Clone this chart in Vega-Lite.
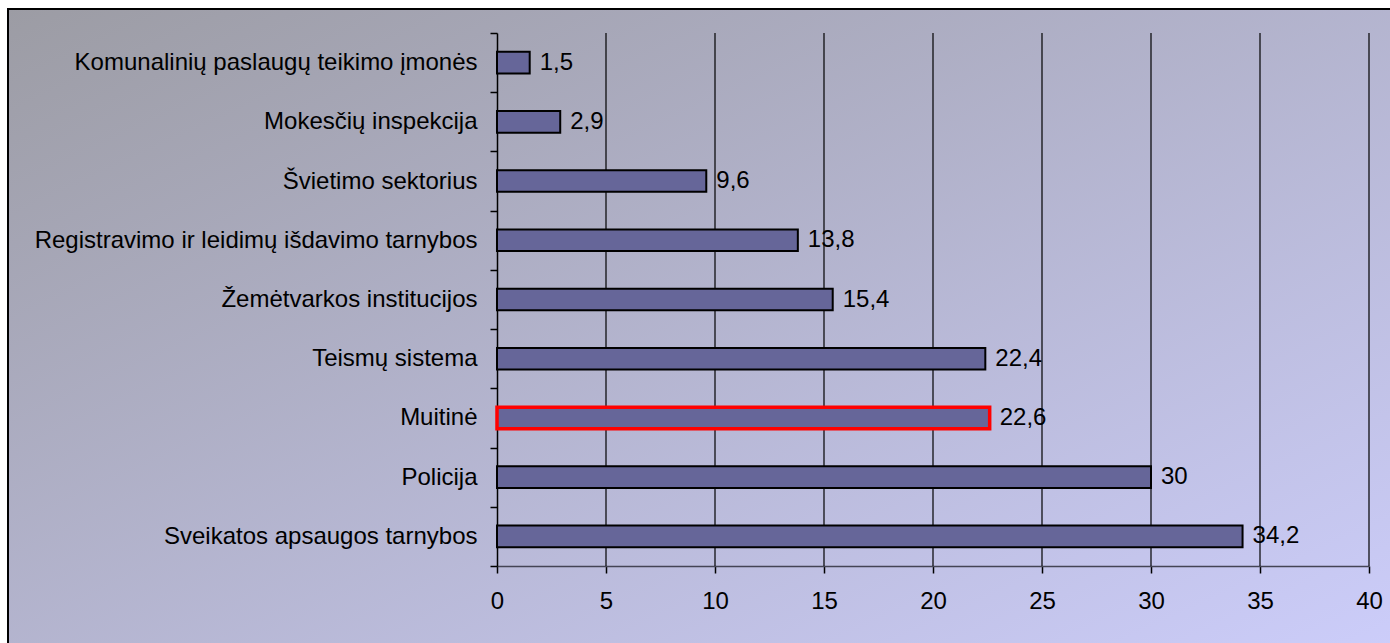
{
  "$schema": "https://vega.github.io/schema/vega-lite/v6.json",
  "width": 1388,
  "height": 640,
  "autosize": {"type": "none"},
  "padding": {"left": 8, "top": 9, "right": -6, "bottom": -6},
  "background": "white",
  "view": {
    "fill": {
      "gradient": "linear",
      "x1": 0, "y1": 0, "x2": 1, "y2": 1,
      "stops": [
        {"offset": 0, "color": "#9c9ca4"},
        {"offset": 1, "color": "#cccdfa"}
      ]
    },
    "stroke": "black",
    "strokeWidth": 2
  },
  "config": {
    "locale": {
      "number": {"decimal": ",", "thousands": " ", "grouping": [3], "currency": ["", " €"]}
    },
    "font": "Liberation Sans",
    "axis": {
      "labelFont": "Liberation Sans",
      "labelFontSize": 24,
      "labelColor": "black"
    }
  },
  "datasets": {
    "bars": [
      {"category": "Komunalinių paslaugų teikimo įmonės", "value": 1.5},
      {"category": "Mokesčių inspekcija", "value": 2.9},
      {"category": "Švietimo sektorius", "value": 9.6},
      {"category": "Registravimo ir leidimų išdavimo tarnybos", "value": 13.8},
      {"category": "Žemėtvarkos institucijos", "value": 15.4},
      {"category": "Teismų sistema", "value": 22.4},
      {"category": "Muitinė", "value": 22.6},
      {"category": "Policija", "value": 30},
      {"category": "Sveikatos apsaugos tarnybos", "value": 34.2}
    ],
    "grid": [
      {"value": 5}, {"value": 10}, {"value": 15}, {"value": 20},
      {"value": 25}, {"value": 30}, {"value": 35}, {"value": 40}
    ]
  },
  "layer": [
    {
      "data": {"name": "grid"},
      "mark": {"type": "rule", "color": "black", "strokeWidth": 1.2},
      "encoding": {
        "x": {"field": "value", "type": "quantitative"},
        "y": {"datum": "Komunalinių paslaugų teikimo įmonės", "type": "nominal", "bandPosition": 0},
        "y2": {"datum": "Sveikatos apsaugos tarnybos", "bandPosition": 1}
      }
    },
    {
      "data": {"name": "bars"},
      "mark": {"type": "bar", "fill": "#666699", "fillOpacity": 1, "height": {"band": 0.365}},
      "encoding": {
        "x": {"field": "value", "type": "quantitative"},
        "y": {"field": "category", "type": "nominal"},
        "stroke": {
          "condition": {"test": "datum.category === 'Muitinė'", "value": "#ff0000"},
          "value": "black"
        },
        "strokeWidth": {
          "condition": {"test": "datum.category === 'Muitinė'", "value": 3.5},
          "value": 2
        }
      }
    },
    {
      "data": {"name": "bars"},
      "mark": {"type": "text", "align": "left", "baseline": "middle", "dx": 10, "fontSize": 24, "font": "Liberation Sans", "color": "black"},
      "encoding": {
        "x": {"field": "value", "type": "quantitative"},
        "y": {"field": "category", "type": "nominal"},
        "text": {"field": "value", "type": "quantitative", "format": ".1~f"}
      }
    }
  ],
  "encoding": {
    "y": {
      "type": "nominal",
      "title": null,
      "scale": {
        "domain": [
          "Komunalinių paslaugų teikimo įmonės",
          "Mokesčių inspekcija",
          "Švietimo sektorius",
          "Registravimo ir leidimų išdavimo tarnybos",
          "Žemėtvarkos institucijos",
          "Teismų sistema",
          "Muitinė",
          "Policija",
          "Sveikatos apsaugos tarnybos"
        ],
        "range": [24, 557],
        "paddingInner": 0,
        "paddingOuter": 0
      },
      "axis": {
        "orient": "left",
        "offset": -489,
        "title": null,
        "tickBand": "extent",
        "tickSize": 7,
        "tickColor": "black",
        "tickWidth": 1.5,
        "domainColor": "black",
        "domainWidth": 1.5,
        "labelPadding": 13,
        "labelLimit": 600,
        "grid": false
      }
    },
    "x": {
      "type": "quantitative",
      "title": null,
      "scale": {"domain": [0, 40], "range": [489, 1361], "nice": false, "zero": true},
      "axis": {
        "orient": "bottom",
        "offset": -83,
        "title": null,
        "values": [0, 5, 10, 15, 20, 25, 30, 35, 40],
        "format": "d",
        "grid": false,
        "tickSize": 7,
        "tickColor": "black",
        "tickWidth": 1.5,
        "domainColor": "#444455",
        "domainWidth": 1.5,
        "labelPadding": 16,
        "labelFlush": false
      }
    }
  }
}
